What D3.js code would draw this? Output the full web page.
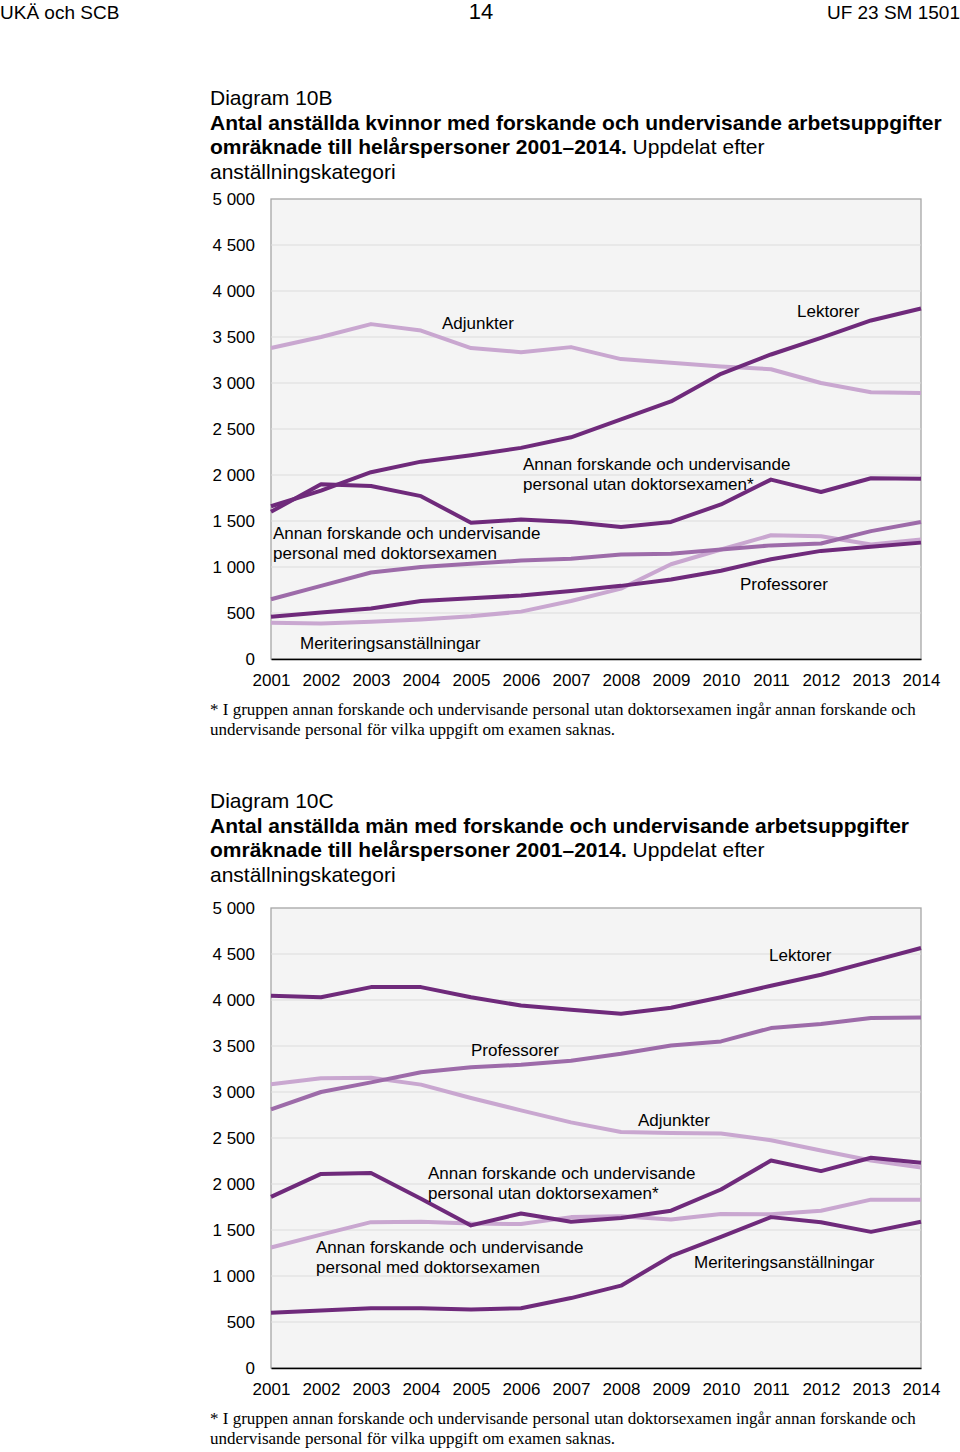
<!DOCTYPE html>
<html>
<head>
<meta charset="utf-8">
<script src="https://cdn.jsdelivr.net/npm/d3@7"></script>
<style>
  body { margin: 0; background: #fff; }
  svg { display: block; font-family: "Liberation Sans", Arial, sans-serif; }
</style>
</head>
<body>
<svg id="page" width="960" height="1452"></svg>
<script>
// Data
const years = [2001, 2002, 2003, 2004, 2005, 2006, 2007, 2008, 2009, 2010, 2011, 2012, 2013, 2014];
const yTicks = [0, 500, 1000, 1500, 2000, 2500, 3000, 3500, 4000, 4500, 5000];

// Diagram 10B, kvinnor
const kvAdjunkter = [3380, 3500, 3640, 3570, 3380, 3335, 3390, 3260, 3220, 3180, 3150, 3000, 2900, 2890];
const kvLektorer = [1660, 1830, 2030, 2145, 2215, 2295, 2410, 2605, 2800, 3100, 3310, 3490, 3680, 3810];
const kvAnnanUtan = [1600, 1900, 1880, 1770, 1480, 1515, 1490, 1435, 1490, 1680, 1950, 1815, 1965, 1960];
const kvAnnanMed = [650, 795, 940, 1000, 1035, 1070, 1090, 1135, 1145, 1190, 1235, 1255, 1390, 1490];
const kvProfessorer = [460, 505, 550, 630, 660, 690, 740, 795, 865, 960, 1085, 1175, 1220, 1265];
const kvMeritering = [395, 385, 405, 430, 465, 515, 630, 765, 1030, 1190, 1345, 1335, 1245, 1300];

// Diagram 10C, män
const manLektorer = [4045, 4030, 4140, 4140, 4030, 3940, 3895, 3850, 3915, 4030, 4155, 4275, 4420, 4565];
const manProfessorer = [2810, 3000, 3105, 3215, 3270, 3295, 3340, 3415, 3505, 3550, 3695, 3740, 3805, 3810];
const manAdjunkter = [3085, 3150, 3155, 3080, 2935, 2800, 2670, 2565, 2555, 2550, 2475, 2365, 2255, 2180];
const manAnnanUtan = [1860, 2110, 2120, 1840, 1550, 1680, 1590, 1630, 1710, 1940, 2255, 2140, 2285, 2230];
const manAnnanMed = [1310, 1450, 1585, 1590, 1570, 1565, 1640, 1650, 1615, 1675, 1670, 1710, 1830, 1830];
const manMeritering = [600, 625, 650, 650, 635, 650, 760, 895, 1215, 1425, 1640, 1585, 1480, 1590];

const dark = "#6f2a7b", medium = "#9d6ba9", light = "#c9a7d0";

const svg = d3.select("#page");

// Page header
svg.append("text").attr("x", 0).attr("y", 19).attr("font-size", 19).text("UKÄ och SCB");
svg.append("text").attr("x", 481).attr("y", 19).attr("font-size", 22).attr("text-anchor", "middle").text("14");
svg.append("text").attr("x", 960).attr("y", 19).attr("font-size", 19).attr("text-anchor", "end").text("UF 23 SM 1501");

const x = d3.scaleLinear().domain([2001, 2014]).range([271, 921]);
const fmt = d => d3.format(",")(d).replace(/,/g, " ");

function drawChart(top, titleTop, diag, subject, series, labels, noteTop) {
  const bottom = top + 460;
  const y = d3.scaleLinear().domain([0, 5000]).range([bottom, top]);

  // Title block
  const t = svg.append("g").attr("font-size", 21);
  t.append("text").attr("x", 210).attr("y", titleTop).text(diag);
  t.append("text").attr("x", 210).attr("y", titleTop + 24.5).attr("font-weight", "bold")
    .text(`Antal anställda ${subject} med forskande och undervisande arbetsuppgifter`);
  const l3 = t.append("text").attr("x", 210).attr("y", titleTop + 49);
  l3.append("tspan").attr("font-weight", "bold").text("omräknade till helårspersoner 2001–2014.");
  l3.append("tspan").text(" Uppdelat efter");
  t.append("text").attr("x", 210).attr("y", titleTop + 73.5).text("anställningskategori");

  // Plot background and grid
  const g = svg.append("g");
  g.append("rect").attr("x", x(2001)).attr("y", top)
    .attr("width", x(2014) - x(2001)).attr("height", bottom - top)
    .attr("fill", "#f4f4f4").attr("stroke", "#a6a6a6").attr("stroke-width", 1.3);
  g.selectAll(".grid").data(yTicks.filter(d => d > 0 && d < 5000)).join("line")
    .attr("x1", x(2001)).attr("x2", x(2014))
    .attr("y1", d => y(d)).attr("y2", d => y(d))
    .attr("stroke", "#dcdcdc").attr("stroke-width", 1);

  // Y axis
  g.append("g").attr("transform", `translate(${x(2001)},0)`)
    .call(d3.axisLeft(y).tickValues(yTicks).tickFormat(fmt).tickSize(0).tickPadding(16))
    .call(a => a.select(".domain").remove())
    .call(a => a.selectAll("text").attr("font-size", 17).attr("fill", "#000")
      .attr("font-family", "'Liberation Sans', Arial, sans-serif"));

  // X axis
  g.append("g").attr("transform", `translate(0,${bottom})`)
    .call(d3.axisBottom(x).tickValues(years).tickFormat(d3.format("d")).tickSize(0).tickPadding(15))
    .call(a => a.select(".domain").attr("stroke", "#000").attr("stroke-width", 1.5))
    .call(a => a.selectAll("text").attr("font-size", 17).attr("fill", "#000")
      .attr("font-family", "'Liberation Sans', Arial, sans-serif"));

  // Lines
  const line = d3.line().x((d, i) => x(years[i])).y(d => y(d));
  g.selectAll(".series").data(series).join("path")
    .attr("fill", "none")
    .attr("stroke", d => d.color)
    .attr("stroke-width", 4)
    .attr("stroke-linejoin", "round")
    .attr("d", d => line(d.values));

  // Line labels
  labels.forEach(lb => {
    const txt = g.append("text").attr("font-size", 17).attr("fill", "#000")
      .attr("x", x(lb.year)).attr("y", y(lb.value));
    lb.lines.forEach((s, i) => {
      txt.append("tspan").attr("x", x(lb.year)).attr("dy", i === 0 ? 0 : 20).text(s);
    });
  });

  // Footnote
  const n = svg.append("g").attr("font-family", "'Liberation Serif', 'Times New Roman', serif").attr("font-size", 17);
  n.append("text").attr("x", 210).attr("y", noteTop)
    .text("* I gruppen annan forskande och undervisande personal utan doktorsexamen ingår annan forskande och");
  n.append("text").attr("x", 210).attr("y", noteTop + 19.5)
    .text("undervisande personal för vilka uppgift om examen saknas.");
}

drawChart(199, 105, "Diagram 10B", "kvinnor", [
  { values: kvMeritering, color: light },
  { values: kvAdjunkter, color: light },
  { values: kvAnnanMed, color: medium },
  { values: kvProfessorer, color: dark },
  { values: kvAnnanUtan, color: dark },
  { values: kvLektorer, color: dark }
], [
  { lines: ["Adjunkter"], year: 2004.42, value: 3587 },
  { lines: ["Lektorer"], year: 2011.52, value: 3717 },
  { lines: ["Annan forskande och undervisande", "personal utan doktorsexamen*"], year: 2006.04, value: 2054 },
  { lines: ["Annan forskande och undervisande", "personal med doktorsexamen"], year: 2001.04, value: 1305 },
  { lines: ["Professorer"], year: 2010.38, value: 750 },
  { lines: ["Meriteringsanställningar"], year: 2001.58, value: 110 }
], 715);

drawChart(908, 808, "Diagram 10C", "män", [
  { values: manAnnanMed, color: light },
  { values: manAdjunkter, color: light },
  { values: manProfessorer, color: medium },
  { values: manMeritering, color: dark },
  { values: manAnnanUtan, color: dark },
  { values: manLektorer, color: dark }
], [
  { lines: ["Lektorer"], year: 2010.96, value: 4424 },
  { lines: ["Professorer"], year: 2005.0, value: 3391 },
  { lines: ["Adjunkter"], year: 2008.34, value: 2630 },
  { lines: ["Annan forskande och undervisande", "personal utan doktorsexamen*"], year: 2004.14, value: 2054 },
  { lines: ["Annan forskande och undervisande", "personal med doktorsexamen"], year: 2001.9, value: 1250 },
  { lines: ["Meriteringsanställningar"], year: 2009.46, value: 1087 }
], 1424);
</script>
</body>
</html>
